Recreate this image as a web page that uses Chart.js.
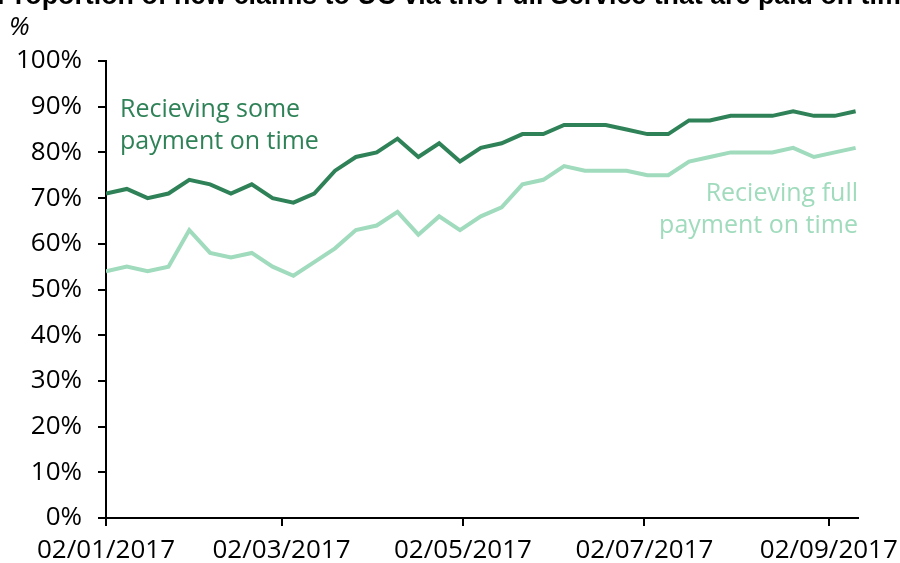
<!DOCTYPE html>
<html>
<head>
<meta charset="utf-8">
<script src="https://cdn.jsdelivr.net/npm/chart.js@4.4.0/dist/chart.umd.min.js"></script>
<style>
html,body{margin:0;padding:0;background:#fff;}
canvas{display:block;}
</style>
</head>
<body>
<canvas id="c" width="900" height="563"></canvas>
<script>
const dates = ['02/01/2017','09/01/2017','16/01/2017','23/01/2017','30/01/2017','06/02/2017','13/02/2017','20/02/2017','27/02/2017','06/03/2017','13/03/2017','20/03/2017','27/03/2017','03/04/2017','10/04/2017','17/04/2017','24/04/2017','01/05/2017','08/05/2017','15/05/2017','22/05/2017','29/05/2017','05/06/2017','12/06/2017','19/06/2017','26/06/2017','03/07/2017','10/07/2017','17/07/2017','24/07/2017','31/07/2017','07/08/2017','14/08/2017','21/08/2017','28/08/2017','04/09/2017','11/09/2017'];
const someOnTime = [71,72,70,71,74,73,71,73,70,69,71,76,79,80,83,79,82,78,81,82,84,84,86,86,86,85,84,84,87,87,88,88,88,89,88,88,89];
const fullOnTime = [54,55,54,55,63,58,57,58,55,53,56,59,63,64,67,62,66,63,66,68,73,74,77,76,76,76,75,75,78,79,80,80,80,81,79,80,81];
const tickDates = ['02/01/2017','02/03/2017','02/05/2017','02/07/2017','02/09/2017'];
const seriesNames = [['Recieving some','payment on time'],['Recieving full','payment on time']];
const title = 'Proportion of new claims to UC via the Full Service that are paid on time';
const yUnit = '%';

const DARK = '#2F8257';
const LIGHT = '#9FDBBC';
const FONT = '"Open Sans", sans-serif';

function dayOf(s){const p=s.split('/').map(Number);return (Date.UTC(p[2],p[1]-1,p[0])-Date.UTC(2017,0,2))/86400000;}

const labelsPlugin = {
  id:'labels',
  afterDraw(chart){
    const ctx = chart.ctx;
    ctx.save();
    ctx.fillStyle='#000';
    ctx.font='bold 26.8px "Liberation Sans", Arial, sans-serif';
    ctx.textAlign='left'; ctx.textBaseline='alphabetic';
    ctx.fillText(title,-3,4);
    ctx.font='italic 26px '+FONT;
    ctx.fillText(yUnit,9,35);
    ctx.font='25px '+FONT;
    ctx.fillStyle=DARK;
    ctx.textAlign='left';
    ctx.fillText(seriesNames[0][0],120,117);
    ctx.fillText(seriesNames[0][1],120,149);
    ctx.fillStyle=LIGHT;
    ctx.textAlign='right';
    ctx.fillText(seriesNames[1][0],858,201);
    ctx.fillText(seriesNames[1][1],858,233);
    ctx.restore();
  }
};

new Chart(document.getElementById('c'),{
  type:'line',
  data:{
    datasets:[
      {label:seriesNames[0].join(' '),data:dates.map((d,i)=>({x:dayOf(d),y:someOnTime[i]})),borderColor:DARK,borderWidth:4,pointRadius:0,tension:0,fill:false},
      {label:seriesNames[1].join(' '),data:dates.map((d,i)=>({x:dayOf(d),y:fullOnTime[i]})),borderColor:LIGHT,borderWidth:4,pointRadius:0,tension:0,fill:false}
    ]
  },
  options:{
    responsive:false,
    animation:false,
    layout:{padding:{top:61,right:42,left:0,bottom:0}},
    plugins:{legend:{display:false},tooltip:{enabled:false},title:{display:false}},
    scales:{
      x:{
        type:'linear',min:0,max:252.8,
        afterBuildTicks(scale){scale.ticks=tickDates.map(d=>({value:dayOf(d)}));},
        afterFit(scale){scale.height=45;scale.paddingLeft=0;scale.paddingRight=0;},
        ticks:{autoSkip:false,maxRotation:0,padding:9,color:'#000',font:{family:FONT,size:26},
          callback:(v,i)=>tickDates[i]},
        grid:{drawOnChartArea:false,drawTicks:true,tickLength:8,color:'#000',lineWidth:2},
        border:{display:true,color:'#000',width:2}
      },
      y:{
        min:0,max:100,
        afterFit(scale){scale.width=106;scale.paddingTop=0;scale.paddingBottom=0;},
        ticks:{stepSize:10,padding:16,color:'#000',font:{family:FONT,size:26},callback:v=>v+'%'},
        grid:{drawOnChartArea:false,drawTicks:true,tickLength:8,color:'#000',lineWidth:2},
        border:{display:true,color:'#000',width:2}
      }
    }
  },
  plugins:[labelsPlugin]
});
</script>
</body>
</html>
